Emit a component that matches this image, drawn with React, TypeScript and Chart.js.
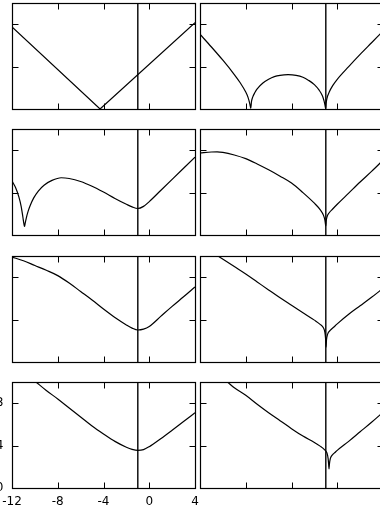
import React, { useEffect, useRef } from 'react';
import { Chart, registerables } from 'chart.js';

Chart.register(...registerables);

// ---- axes ----
const X_MIN = -12;
const X_MAX = 4;
const Y_MIN = 0;
const Y_MAX = 10;
const xTickValues = [-12, -8, -4, 0, 4];
const yTickValues = [0, 4, 8];
const markerX = -1;

// ---- panel data (row-major: left, right) ----
const p1x = [-12, -4.3, 4];
const p1y = [7.75, 0, 8.15];

const p2x = [-12, -11, -10, -9, -8.5, -8, -7.8, -7.68, -7.6, -7.56, -7.5, -7.4, -7.2, -7, -6.5, -6, -5.5, -5, -4.3, -3.6, -3, -2.5, -2, -1.6, -1.3, -1.15, -1.06, -1.02, -0.98, -0.9, -0.7, -0.4, 0, 1, 2, 3, 4];
const p2y = [7.05, 5.85, 4.6, 3.25, 2.5, 1.6, 1.1, 0.65, 0.25, 0.08, 0.7, 1.1, 1.55, 1.9, 2.45, 2.8, 3.05, 3.18, 3.24, 3.18, 3.0, 2.7, 2.3, 1.8, 1.25, 0.75, 0.3, 0.05, 0.5, 1.0, 1.6, 2.2, 2.8, 4.0, 5.15, 6.25, 7.35];

const p3x = [-12, -11.7, -11.4, -11.2, -11.05, -10.95, -10.9, -10.85, -10.75, -10.6, -10.4, -10.1, -9.7, -9.2, -8.5, -7.7, -7, -6, -5, -4, -3, -2, -1.5, -1, -0.5, 0, 1, 2, 3, 4];
const p3y = [5.1, 4.5, 3.6, 2.7, 1.7, 1.0, 0.8, 1.1, 1.6, 2.2, 2.8, 3.5, 4.15, 4.7, 5.15, 5.4, 5.33, 5.05, 4.6, 4.05, 3.45, 2.9, 2.65, 2.5, 2.7, 3.15, 4.2, 5.25, 6.3, 7.35];

const p4x = [-12, -11, -10.5, -10, -9, -8, -7, -6, -5, -4, -3, -2, -1.5, -1.2, -1.08, -1.02, -1.0, -0.97, -0.9, -0.7, -0.4, 0, 1, 2, 3, 4];
const p4y = [7.75, 7.83, 7.85, 7.8, 7.55, 7.2, 6.7, 6.15, 5.55, 4.9, 4.0, 3.0, 2.4, 1.85, 1.4, 0.95, 0.85, 1.3, 1.7, 2.1, 2.45, 2.9, 3.95, 5.0, 6.0, 7.05];

const p5x = [-12, -11, -10, -9, -8, -7, -6, -5, -4, -3, -2, -1.5, -1, -0.5, 0, 1, 2, 3, 4];
const p5y = [9.9, 9.55, 9.1, 8.65, 8.15, 7.45, 6.65, 5.85, 5.0, 4.2, 3.5, 3.2, 3.02, 3.1, 3.35, 4.3, 5.25, 6.15, 7.08];

const p6x = [-10.43, -9, -8, -7, -6, -5, -4, -3, -2, -1.5, -1.2, -1.08, -1.02, -0.98, -0.94, -0.85, -0.6, -0.3, 0, 1, 2, 3, 4];
const p6y = [10, 9.0, 8.3, 7.55, 6.8, 6.05, 5.35, 4.65, 3.95, 3.55, 3.2, 2.8, 2.2, 1.4, 2.1, 2.6, 3.0, 3.3, 3.6, 4.5, 5.3, 6.1, 6.95];

const p7x = [-9.9, -9, -8, -7, -6, -5, -4, -3, -2, -1.5, -1, -0.5, 0, 1, 2, 3, 4];
const p7y = [10, 9.2, 8.4, 7.55, 6.7, 5.85, 5.1, 4.4, 3.85, 3.65, 3.55, 3.62, 3.9, 4.65, 5.45, 6.27, 7.1];

const p8x = [-9.6, -9, -8, -7, -6, -5, -4, -3, -2, -1.5, -1.1, -0.9, -0.8, -0.75, -0.72, -0.68, -0.6, -0.4, -0.2, 0, 1, 2, 3, 4];
const p8y = [10, 9.45, 8.75, 7.9, 7.1, 6.35, 5.6, 4.9, 4.3, 3.95, 3.6, 3.3, 2.8, 2.2, 1.8, 2.3, 2.8, 3.15, 3.35, 3.55, 4.4, 5.3, 6.2, 7.15];

const seriesX = [p1x, p2x, p3x, p4x, p5x, p6x, p7x, p8x];
const seriesY = [p1y, p2y, p3y, p4y, p5y, p6y, p7y, p8y];

// ---- layout (pixels) ----
const COL_LEFT = [12, 200];
const ROW_TOP = [3, 129, 256, 382];
const PW = 183;
const PH = 106;
const PAD = 4;
const TICK_LEN = 6;
const FONT = { family: "'DejaVu Sans', sans-serif", size: 12 };

const framePlugin = {
  id: 'panelFrame',
  afterDatasetsDraw(chart: any) {
    const { ctx, chartArea: a, scales } = chart;
    const sx = scales.x;
    const sy = scales.y;
    const l = Math.round(a.left) + 0.5;
    const r = Math.round(a.right) + 0.5;
    const t = Math.round(a.top) + 0.5;
    const b = Math.round(a.bottom) + 0.5;
    ctx.save();
    ctx.strokeStyle = '#000';
    ctx.lineWidth = 1;
    ctx.beginPath();
    for (const v of xTickValues) {
      const px = Math.round(sx.getPixelForValue(v)) + 0.5;
      ctx.moveTo(px, b);
      ctx.lineTo(px, b - TICK_LEN);
      ctx.moveTo(px, t);
      ctx.lineTo(px, t + TICK_LEN);
    }
    for (const v of yTickValues) {
      const py = Math.round(sy.getPixelForValue(v)) + 0.5;
      ctx.moveTo(l, py);
      ctx.lineTo(l + TICK_LEN, py);
      ctx.moveTo(r, py);
      ctx.lineTo(r - TICK_LEN, py);
    }
    ctx.stroke();
    ctx.lineWidth = 1.2;
    ctx.strokeRect(l, t, r - l, b - t);
    ctx.restore();
  },
};

function Panel({ index }: { index: number }) {
  const ref = useRef<HTMLCanvasElement | null>(null);
  const row = Math.floor(index / 2);
  const col = index % 2;
  const labelled = row === 3 && col === 0;

  let left: number, top: number, width: number, height: number, padding: any;
  if (labelled) {
    left = 0;
    top = ROW_TOP[row] - 12;
    width = COL_LEFT[0] + PW + 11;
    height = 510 - top;
    padding = { left: 0, top: 12, right: 11, bottom: 0 };
  } else {
    left = COL_LEFT[col] - PAD;
    top = ROW_TOP[row] - PAD;
    width = PW + 2 * PAD;
    height = PH + 2 * PAD;
    padding = PAD;
  }

  useEffect(() => {
    const canvas = ref.current;
    if (!canvas) return;
    const xs = seriesX[index];
    const ys = seriesY[index];
    const smooth = index !== 0;
    const chart = new Chart(canvas, {
      type: 'scatter',
      data: {
        datasets: [
          {
            data: xs.map((x, i) => ({ x, y: ys[i] })),
            showLine: true,
            borderColor: '#000',
            backgroundColor: '#000',
            borderWidth: 1.2,
            pointRadius: 0,
            fill: false,
            cubicInterpolationMode: smooth ? 'monotone' : 'default',
          },
          {
            data: [
              { x: markerX, y: Y_MIN },
              { x: markerX, y: Y_MAX },
            ],
            showLine: true,
            borderColor: '#000',
            borderWidth: 1.4,
            pointRadius: 0,
            fill: false,
          },
        ],
      } as any,
      options: {
        responsive: false,
        animation: false,
        events: [],
        layout: { padding },
        plugins: { legend: { display: false }, tooltip: { enabled: false } },
        scales: {
          x: {
            type: 'linear',
            min: X_MIN,
            max: X_MAX,
            display: labelled,
            grid: { display: false, drawTicks: false },
            border: { display: false },
            ticks: { font: FONT, color: '#000', padding: 7, maxRotation: 0, autoSkip: false },
            afterBuildTicks: (s: any) => {
              s.ticks = xTickValues.map((v) => ({ value: v }));
            },
            afterFit: (s: any) => {
              if (!labelled) return;
              s.height = 22;
              s.paddingLeft = 0;
              s.paddingRight = 0;
            },
          },
          y: {
            type: 'linear',
            min: Y_MIN,
            max: Y_MAX,
            display: labelled,
            grid: { display: false, drawTicks: false },
            border: { display: false },
            ticks: { font: FONT, color: '#000', padding: 8.5, autoSkip: false },
            afterBuildTicks: (s: any) => {
              s.ticks = yTickValues.map((v) => ({ value: v }));
            },
            afterFit: (s: any) => {
              if (!labelled) return;
              s.width = 12;
              s.paddingTop = 0;
              s.paddingBottom = 0;
            },
          },
        },
      } as any,
      plugins: [framePlugin],
    });
    return () => chart.destroy();
  }, [index]);

  return (
    <canvas
      ref={ref}
      width={width}
      height={height}
      style={{ position: 'absolute', left, top, width, height }}
    />
  );
}

export default function App() {
  return (
    <div
      style={{
        position: 'fixed',
        left: 0,
        top: 0,
        width: 380,
        height: 510,
        overflow: 'hidden',
        background: '#fff',
      }}
    >
      {seriesX.map((_, i) => (
        <Panel key={i} index={i} />
      ))}
    </div>
  );
}
